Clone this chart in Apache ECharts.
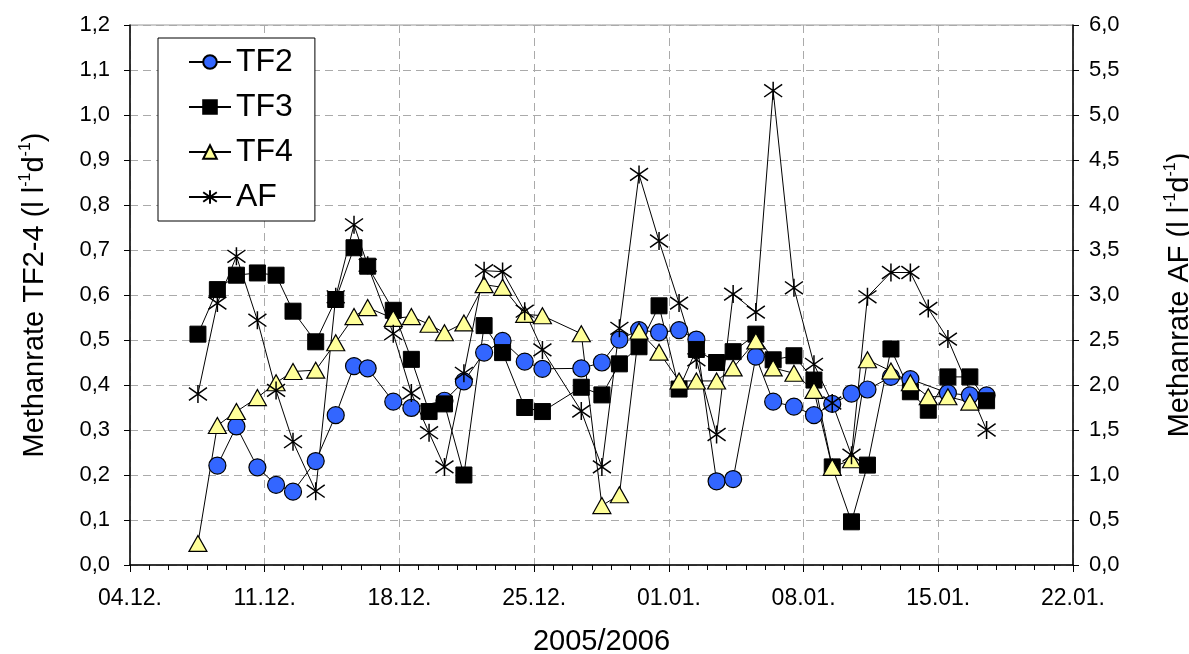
<!DOCTYPE html>
<html>
<head>
<meta charset="utf-8">
<script src="https://cdn.jsdelivr.net/npm/echarts@6/dist/echarts.min.js"></script>
<style>
  html, body { margin: 0; padding: 0; background: #fff; }
  #chart { width: 1189px; height: 654px; }
</style>
</head>
<body>
<div id="chart"></div>
<script>
// Sampling times, in days after 04.12.2005 00:00
const sampleDay = [3.53, 4.54, 5.53, 6.62, 7.59, 8.47, 9.65, 10.69, 11.64, 12.35,
  13.68, 14.62, 15.54, 16.34, 17.35, 18.40, 19.36, 20.51, 21.43,
  23.45, 24.52, 25.43, 26.45, 27.49, 28.53, 29.43, 30.48, 31.34, 32.52,
  33.42, 34.50, 35.54, 36.49, 37.49, 38.32, 39.54, 40.55, 41.48, 42.50,
  43.64, 44.51];

// Methane rate, l l-1 d-1 (null = no measurement)
const tf2 = [null, 0.221, 0.308, 0.217, 0.178, 0.163, 0.231, 0.333, 0.442, 0.437,
  0.363, 0.349, null, 0.365, 0.408, 0.472, 0.498, 0.452, 0.436,
  0.437, 0.450, 0.501, 0.522, 0.517, 0.522, 0.501, 0.186, 0.191, 0.463,
  0.363, 0.352, 0.333, 0.358, 0.381, 0.390, 0.418, 0.413, null, 0.382,
  0.377, 0.377];

const tf3 = [0.513, 0.612, 0.644, 0.649, 0.644, 0.564, 0.496, 0.590, 0.705, 0.664,
  0.566, 0.457, 0.341, 0.358, 0.200, 0.532, 0.472, 0.350, 0.341,
  0.395, 0.378, 0.447, 0.485, 0.576, 0.391, 0.479, 0.450, 0.474, 0.513,
  0.456, 0.465, 0.411, 0.218, 0.096, 0.222, 0.480, 0.385, 0.344, 0.418,
  0.418, 0.365];

const tf4 = [0.048, 0.310, 0.341, 0.372, 0.405, 0.430, 0.433, 0.494, 0.552, 0.572,
  0.548, 0.552, 0.535, 0.516, 0.538, 0.623, 0.617, 0.557, 0.554,
  0.514, 0.132, 0.156, 0.520, 0.473, 0.409, 0.409, 0.409, 0.438, 0.498,
  0.438, 0.426, 0.388, 0.217, 0.234, 0.456, 0.431, 0.405, 0.374, 0.374,
  0.362, null];

const af = [1.90, 2.91, 3.43, 2.72, 1.94, 1.37, 0.82, 2.98, 3.78, 3.33,
  2.57, 1.91, 1.47, 1.09, 2.13, 3.27, 3.26, 2.82, 2.39,
  1.71, 1.09, 2.63, 4.34, 3.60, 2.91, 2.28, 1.45, 3.01, 2.81,
  5.27, 3.08, 2.23, 1.80, 1.22, 2.98, 3.25, 3.25, 2.85, 2.51,
  null, 1.50];

// Weekly tick labels on the time axis
const xTickLabels = ['04.12.', '11.12.', '18.12.', '25.12.', '01.01.', '08.01.', '15.01.', '22.01.'];

const FONT = '"Liberation Sans", Arial, sans-serif';
const comma = v => v.toFixed(1).replace('.', ',');
const pairs = vals => sampleDay.map((d, i) => [d, vals[i]]).filter(p => p[1] !== null);

// Asterisk marker: vertical stroke plus a cross
const starPath = 'path://M10,0L10,20M2,3L18,17M2,17L18,3';

const chart = echarts.init(document.getElementById('chart'), null, { renderer: 'canvas' });

const richName = {
  a: { fontSize: 29, fontFamily: FONT, color: '#000', lineHeight: 34 },
  s: { fontSize: 16, fontFamily: FONT, color: '#000', lineHeight: 18, verticalAlign: 'top' }
};

const lineStyle = { color: '#000', width: 1 };

chart.setOption({
  animation: false,
  backgroundColor: '#fff',
  grid: {
    left: 130, right: 116, top: 25, bottom: 89,
    outerBoundsMode: 'none',
    containLabel: false,
    show: true, borderColor: '#999', borderWidth: 1
  },
  legend: {
    orient: 'vertical',
    left: 158, top: 38,
    backgroundColor: '#fff',
    borderColor: '#000', borderWidth: 1,
    padding: [8, 22, 8, 30],
    itemWidth: 42, itemHeight: 17, itemGap: 13,
    textStyle: { fontSize: 32, fontFamily: FONT, color: '#000', lineHeight: 32 },
    data: ['TF2', 'TF3', 'TF4', 'AF']
  },
  xAxis: {
    type: 'value',
    min: 0, max: 49, interval: 7,
    name: '2005/2006',
    nameLocation: 'middle',
    nameGap: 62,
    nameTextStyle: { fontSize: 29, fontFamily: FONT, color: '#000' },
    axisLine: { show: true, lineStyle: { color: '#000', width: 1.5 } },
    axisTick: { show: true, length: 7, lineStyle: { color: '#000' } },
    minorTick: { show: true, splitNumber: 7, length: 5, lineStyle: { color: '#000' } },
    axisLabel: {
      fontSize: 23, fontFamily: FONT, color: '#000', margin: 22,
      formatter: v => xTickLabels[Math.round(v / 7)] || ''
    },
    splitLine: { show: true, lineStyle: { color: '#aaa', type: [8, 5], width: 1 } }
  },
  yAxis: [
    {
      type: 'value',
      min: 0, max: 1.2, interval: 0.1,
      position: 'left',
      name: '{a|Methanrate TF2-4 (l l}{s|-1}{a|d}{s|-1}{a|)}',
      nameLocation: 'middle',
      nameRotate: 90,
      nameGap: 78,
      nameTextStyle: { rich: richName },
      axisLine: { show: true, lineStyle: { color: '#000', width: 1.5 } },
      axisTick: { show: true, length: 6, lineStyle: { color: '#000' } },
      axisLabel: { fontSize: 22, fontFamily: FONT, color: '#000', margin: 20, formatter: comma },
      splitLine: { show: true, lineStyle: { color: '#aaa', type: [8, 5], width: 1 } }
    },
    {
      type: 'value',
      min: 0, max: 6, interval: 0.5,
      position: 'right',
      name: '{a|Methanrate AF (l l}{s|-1}{a|d}{s|-1}{a|)}',
      nameLocation: 'middle',
      nameRotate: 90,
      nameGap: 90,
      nameTextStyle: { rich: richName },
      axisLine: { show: true, lineStyle: { color: '#000', width: 1.5 } },
      axisTick: { show: true, length: 6, lineStyle: { color: '#000' } },
      axisLabel: { fontSize: 22, fontFamily: FONT, color: '#000', margin: 16, formatter: comma },
      splitLine: { show: false }
    }
  ],
  series: [
    {
      name: 'TF2', type: 'line', yAxisIndex: 0,
      data: pairs(tf2),
      symbol: 'circle', symbolSize: 17,
      lineStyle: lineStyle,
      itemStyle: { color: '#3366ff', borderColor: '#000', borderWidth: 1.2 }
    },
    {
      name: 'TF3', type: 'line', yAxisIndex: 0,
      data: pairs(tf3),
      symbol: 'rect', symbolSize: 16,
      lineStyle: lineStyle,
      itemStyle: { color: '#000', borderColor: '#000', borderWidth: 1 }
    },
    {
      name: 'TF4', type: 'line', yAxisIndex: 0,
      data: pairs(tf4),
      symbol: 'triangle', symbolSize: [18, 16],
      lineStyle: lineStyle,
      itemStyle: { color: '#ffff99', borderColor: '#000', borderWidth: 1.2 }
    },
    {
      name: 'AF', type: 'line', yAxisIndex: 1,
      data: pairs(af),
      symbol: starPath, symbolSize: 18,
      lineStyle: lineStyle,
      itemStyle: { color: 'transparent', borderColor: '#000', borderWidth: 1.5 }
    }
  ]
});
</script>
</body>
</html>
